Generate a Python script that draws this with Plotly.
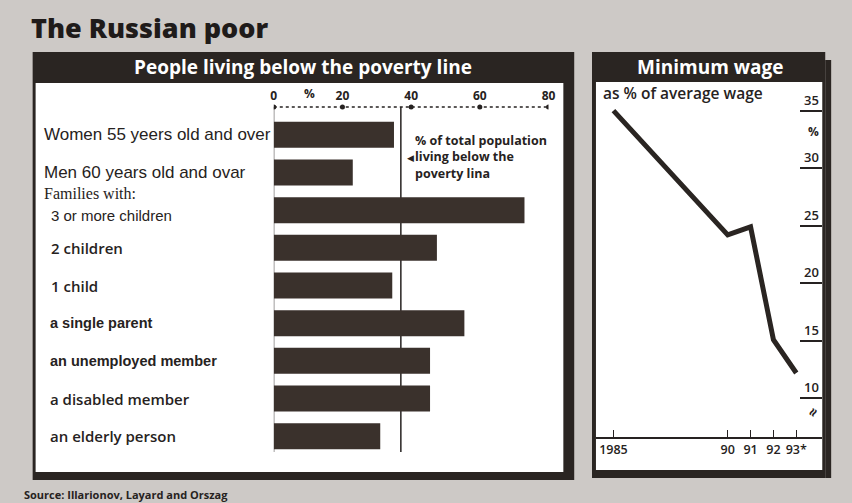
import plotly.graph_objects as go

W, H = 852, 503
def X(px): return px / W
def Y(py): return 1 - py / H

# ---------------- data ----------------
groups = ["Women 55 yeers old and over", "Men 60 years old and ovar",
          "3 or more children", "2 children", "1 child",
          "a single parent", "an unemployed member", "a disabled member",
          "an elderly person"]
share_below = [35, 23, 73, 47.5, 34.5, 55.5, 45.5, 45.5, 31]
poverty_total = 37
bar_ticks = [0, 20, 40, 60, 80]

years = [1985, 1990, 1991, 1992, 1993]
year_labels = ["1985", "90", "91", "92", "93*"]
min_wage_pct = [35, 24.2, 24.9, 15.1, 12.2]
wage_ticks = [10, 15, 20, 25, 30, 35]

# ---------------- styles ----------------
BG = "#cdc9c6"
DARK = "#2a2522"
BAR = "#3a312c"
TXT = "#262221"
FR = "Open Sans"
AR = "Liberation Sans"
SR = "Liberation Serif"

fig = go.Figure()
fig.add_trace(go.Bar(x=share_below, y=groups, orientation="h", width=0.69,
                     marker=dict(color=BAR, line=dict(width=0)),
                     xaxis="x", yaxis="y", hoverinfo="skip"))
fig.add_trace(go.Scatter(x=years, y=min_wage_pct, mode="lines",
                         line=dict(color=DARK, width=5),
                         xaxis="x2", yaxis="y2", hoverinfo="skip"))

shapes = []
def rect(x0, y0, x1, y1, color):
    shapes.append(dict(type="rect", xref="paper", yref="paper", layer="below",
                       x0=X(x0), x1=X(x1), y0=Y(y1), y1=Y(y0),
                       fillcolor=color, line=dict(width=0)))

# left panel frame
rect(30, 52, 578, 480, DARK)
rect(33, 83, 567, 472, "white")
# right panel frame
rect(596, 52, 832, 478, DARK)
rect(832, 60, 838, 478, DARK)
rect(600, 82, 829, 470, "white")

# dotted top axis line + dots at ticks
shapes.append(dict(type="line", xref="x", yref="paper", layer="below",
                   x0=bar_ticks[0], x1=bar_ticks[-1], y0=Y(107), y1=Y(107),
                   line=dict(color=TXT, width=1.5, dash="dot")))
for t in bar_ticks:
    shapes.append(dict(type="circle", xref="x", yref="paper", layer="above",
                       xsizemode="pixel", ysizemode="pixel", xanchor=t, yanchor=Y(107),
                       x0=-2.5, x1=2.5, y0=-2.5, y1=2.5,
                       fillcolor=TXT, line=dict(width=0)))
# zero line and poverty line
shapes.append(dict(type="line", xref="x", yref="paper", layer="below",
                   x0=0, x1=0, y0=Y(107), y1=Y(452), line=dict(color=TXT, width=1)))
shapes.append(dict(type="line", xref="x", yref="paper", layer="below",
                   x0=poverty_total, x1=poverty_total, y0=Y(107), y1=Y(452),
                   line=dict(color=TXT, width=1.5)))

ann = []
def text(x, y, s, size, family=FR, color=TXT, weight="normal", xanchor="left",
         yanchor="middle", xref="paper", yref="paper", textangle=0, align="left",
         yshift=0):
    ann.append(dict(x=x, y=y, xref=xref, yref=yref, text=s, showarrow=False,
                    xanchor=xanchor, yanchor=yanchor, textangle=textangle, align=align,
                    yshift=yshift,
                    font=dict(family=family, size=size, color=color, weight=weight)))

# title and headers
text(X(26), Y(27), "The Russian poor", 27, weight=800, color="#1f1b1a")
text(X(304), Y(67), "People living below the poverty line", 19, weight="bold",
     color="white", xanchor="center")
text(X(715), Y(67), "Minimum wage", 19, weight="bold", color="white", xanchor="center")

# row labels (styles per row: x px, font, size, weight, vertical shift px)
label_style = [
    (39, AR, 17, "normal", 0), (39, AR, 17, "normal", 0), (47, AR, 15, "normal", -5),
    (47, FR, 15, 600, 0), (47, FR, 15, 600, 0), (46, AR, 14.5, "bold", 0),
    (46, AR, 14.5, "bold", 0), (46, FR, 15, 600, 0), (46, FR, 15, 600, 0),
]
for i, (g, st) in enumerate(zip(groups, label_style)):
    px, fam, sz, wt, ys = st
    text(X(px), i, g, sz, family=fam, weight=wt, yref="y", yshift=ys)
text(X(39), 1.55, "Families with:", 16, family=SR, yref="y")

# % sign on top axis, legend note
text(10.5, Y(94), "%", 12, weight="bold", xref="x", xanchor="center")
text(X(415), Y(157), "% of total population<br>living below the<br>poverty lina",
     12.5, weight="bold")
text(X(407), Y(157), "◀", 9)

# right panel texts
text(X(605), Y(93), "as % of average wage", 15.5, weight=600)
for v in wage_ticks:
    ann.append(dict(x=X(828), y=v, xref="paper", yref="y2", text=str(v),
                    showarrow=False, xanchor="right", yanchor="bottom", yshift=0,
                    font=dict(family=FR, size=13, color=TXT, weight=600)))
text(X(820), Y(131), "%", 12, weight="bold", xanchor="center")
text(X(819), Y(412), "≈", 15, weight="bold", xanchor="center", textangle=-60)

# source
text(X(19), Y(494), "Source: Illarionov, Layard and Orszag", 11, weight="bold")

fig.update_layout(
    width=W, height=H, margin=dict(l=0, r=0, t=0, b=0),
    paper_bgcolor=BG, plot_bgcolor="rgba(0,0,0,0)", showlegend=False,
    shapes=shapes, annotations=ann,
    xaxis=dict(domain=[X(274), X(552)], range=[0, 80], side="top", anchor="free",
               position=Y(107), tickvals=bar_ticks, ticks="", showgrid=False,
               zeroline=False, showline=False, ticklabelstandoff=5,
               tickfont=dict(family=FR, size=12, color=TXT, weight="bold")),
    yaxis=dict(domain=[Y(455), Y(116)], type="category", range=[8.5, -0.5],
               showticklabels=False, showgrid=False, zeroline=False, showline=False),
    xaxis2=dict(domain=[X(600), X(829)], range=[1984.235, 1994.137], anchor="y2",
                tickvals=years, ticktext=year_labels, ticks="inside", ticklen=7,
                tickwidth=1, tickcolor=TXT, showline=True, linecolor=TXT, linewidth=1.5,
                showgrid=False, zeroline=False,
                tickfont=dict(family=FR, size=12.5, color=TXT, weight=600)),
    yaxis2=dict(domain=[Y(437), Y(82)], range=[6.64, 37.49], anchor="x2", side="right",
                tickvals=wage_ticks, ticks="inside", ticklen=22, tickwidth=1.5,
                tickcolor=TXT, showticklabels=False, showgrid=False, zeroline=False,
                showline=False),
)

fig.write_html("out.html", config={"displayModeBar": False},
               post_script="document.body.style.margin='0';document.body.style.overflow='hidden';")
